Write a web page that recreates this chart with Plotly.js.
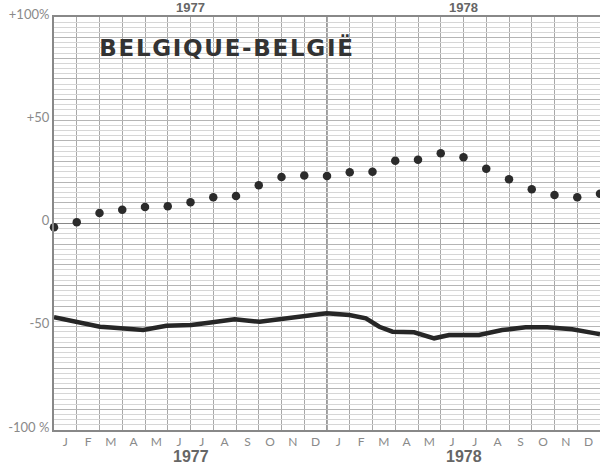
<!DOCTYPE html>
<html>
<head>
<meta charset="utf-8">
<script src="https://cdn.plot.ly/plotly-3.0.1.min.js"></script>
<style>
html,body{margin:0;padding:0;background:#fff;}
#chart{width:600px;height:467px;}
g.annotation[data-index="4"] text{letter-spacing:1.7px;}
</style>
</head>
<body>
<div id="chart"></div>
<script>
// Month positions: 0 = start of Jan 1977, 24 = end of Dec 1978
const monthLabels = ['J','F','M','A','M','J','J','A','S','O','N','D','J','F','M','A','M','J','J','A','S','O','N','D'];
const monthCenters = [0.5,1.5,2.5,3.5,4.5,5.5,6.5,7.5,8.5,9.5,10.5,11.5,12.5,13.5,14.5,15.5,16.5,17.5,18.5,19.5,20.5,21.5,22.5,23.5];
const years = ['1977','1978'];
const yearCenters = [6, 18];
const chartTitle = 'BELGIQUE-BELGIË';

// Dotted series (% change), one value per month boundary
const dotX = [0,1,2,3,4,5,6,7,8,9,10,11,12,13,14,15,16,17,18,19,20,21,22,23,24];
const dotY = [-1.8,0.6,5.1,6.7,8.0,8.3,10.3,12.7,13.3,18.5,22.5,23.2,23.0,24.8,25.1,30.4,30.9,34.0,32.1,26.5,21.4,16.6,13.8,12.7,14.4];

// Solid series (% change)
const lineX = [0,1.02,2.02,2.5,3.04,3.92,4.94,6.04,6.97,7.94,9.04,10.03,10.8,11.99,12.98,13.71,14.3,14.88,15.83,16.71,17.37,18.68,19.7,20.73,21.68,22.78,23.8,24];
const lineY = [-45.4,-47.6,-50.0,-50.4,-50.8,-51.6,-49.5,-49.2,-47.8,-46.4,-47.6,-46.2,-45.5,-43.5,-44.3,-45.9,-50.0,-52.4,-52.7,-55.6,-54.0,-54.0,-51.6,-50.3,-50.3,-51.2,-53.2,-53.6];

const yTickVals = [-100,-50,0,50,100];
const yTickText = ['-100 %','-50','0','+50','+100%'];

const traces = [
  {x: lineX, y: lineY, type: 'scatter', mode: 'lines',
   line: {color: '#262626', width: 4.5, shape: 'linear'}, hoverinfo: 'skip'},
  {x: dotX, y: dotY, type: 'scatter', mode: 'markers', cliponaxis: false,
   marker: {color: '#2b2b2b', size: 8.5}, hoverinfo: 'skip'},
  {x: [0], y: [0], yaxis: 'y2', type: 'scatter', mode: 'markers', marker: {opacity: 0}, hoverinfo: 'skip'}
];

const annotations = [];
years.forEach((yr, i) => {
  annotations.push({x: yearCenters[i], y: -0.063, xref: 'x', yref: 'paper', text: yr, showarrow: false,
    xanchor: 'center', yanchor: 'middle', font: {family: 'Liberation Sans, Arial', size: 16, color: '#666', weight: 'bold'}});
  annotations.push({x: yearCenters[i], y: 1.0, yshift: 0, xref: 'x', yref: 'paper', text: yr, showarrow: false,
    xanchor: 'center', yanchor: 'bottom', font: {family: 'Liberation Sans, Arial', size: 13, color: '#666', weight: 'bold'}});
});
annotations.push({x: 2.02, y: 0.927, xshift: 10, xref: 'x', yref: 'paper', text: '<b>' + chartTitle + '</b>', showarrow: false,
  xanchor: 'left', yanchor: 'middle', font: {family: 'DejaVu Sans, sans-serif', size: 23, color: '#333'}});

const layout = {
  width: 600, height: 467,
  margin: {l: 54, r: 0, t: 17, b: 37, pad: 0},
  paper_bgcolor: '#fff', plot_bgcolor: '#fff',
  showlegend: false,
  xaxis: {
    range: [0, 24], tickmode: 'array', tickvals: monthCenters, ticktext: monthLabels,
    showgrid: false, zeroline: false, ticks: '', fixedrange: true,
    showline: true, linecolor: '#888', linewidth: 2, mirror: true,
    tickfont: {family: 'Lato, Open Sans, sans-serif', size: 12, color: '#8a8a8a'},
    minor: {tickmode: 'linear', tick0: 0, dtick: 1, showgrid: true, gridcolor: '#a8a8a8', gridwidth: 1, ticks: ''}
  },
  yaxis: {
    range: [-100, 100], tickmode: 'array', tickvals: yTickVals, ticktext: yTickText,
    showgrid: false, zeroline: false, ticks: '', fixedrange: true,
    showline: true, linecolor: '#888', linewidth: 2,
    ticklabelshift: -3, ticklabelstandoff: 0,
    tickfont: {family: 'Lato, Open Sans, sans-serif', size: 13, color: '#8a8a8a'},
    minor: {tickmode: 'linear', tick0: 0, dtick: 2.5, showgrid: true, gridcolor: '#d6d6d6', gridwidth: 1, ticks: ''}
  },
  yaxis2: {
    overlaying: 'y', range: [-100, 100], tickmode: 'linear', tick0: 0, dtick: 10,
    showgrid: true, gridcolor: '#b5b5b5', gridwidth: 1, showticklabels: false, zeroline: true,
    zerolinecolor: '#888', zerolinewidth: 1, ticks: '', fixedrange: true, layer: 'below traces'
  },
  shapes: [
    {type: 'line', xref: 'x', yref: 'paper', x0: 12, x1: 12, y0: 0, y1: 1, line: {color: '#666', width: 1.3}, layer: 'below'}
  ],
  annotations: annotations
};

Plotly.newPlot('chart', traces, layout, {staticPlot: true, displayModeBar: false});
</script>
</body>
</html>
